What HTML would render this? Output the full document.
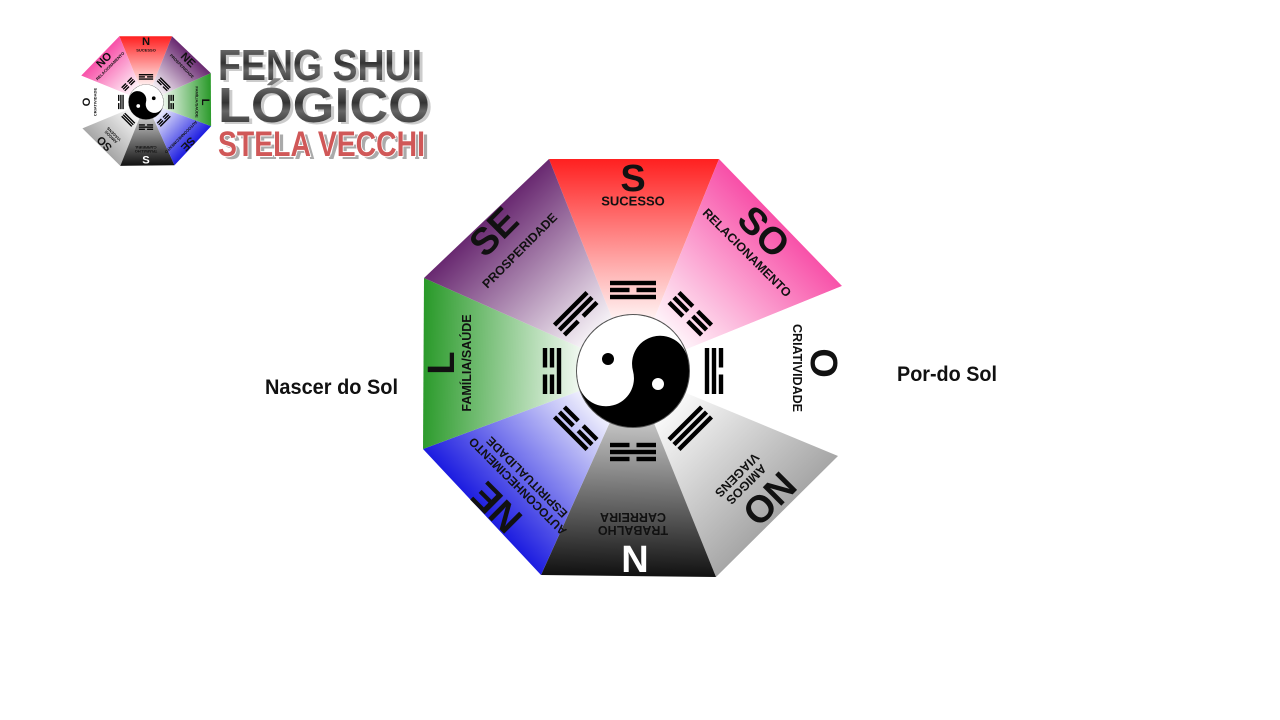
<!DOCTYPE html>
<html><head><meta charset="utf-8"><style>
html,body{margin:0;padding:0;background:#fff;width:1280px;height:720px;overflow:hidden}
svg{display:block}
text{font-family:"Liberation Sans",sans-serif;font-weight:bold}
</style></head><body>
<svg width="1280" height="720" viewBox="0 0 1280 720" xmlns="http://www.w3.org/2000/svg">
<defs>
<linearGradient id="gS" gradientUnits="userSpaceOnUse" x1="0" y1="0" x2="0" y2="-212"><stop offset="0.2" stop-color="#fff"/><stop offset="1" stop-color="#ff2020"/></linearGradient>
<linearGradient id="gSO" gradientUnits="userSpaceOnUse" x1="0" y1="0" x2="148" y2="-149"><stop offset="0.2" stop-color="#fff"/><stop offset="1" stop-color="#f850a8"/></linearGradient>
<linearGradient id="gNO" gradientUnits="userSpaceOnUse" x1="0" y1="0" x2="144" y2="146"><stop offset="0.2" stop-color="#fff"/><stop offset="1" stop-color="#a6a6a6"/></linearGradient>
<linearGradient id="gN" gradientUnits="userSpaceOnUse" x1="0" y1="0" x2="-4" y2="205"><stop offset="0.2" stop-color="#d0d0d0"/><stop offset="1" stop-color="#111"/></linearGradient>
<linearGradient id="gNE" gradientUnits="userSpaceOnUse" x1="0" y1="0" x2="-151" y2="141"><stop offset="0.2" stop-color="#fff"/><stop offset="1" stop-color="#1c1ce0"/></linearGradient>
<linearGradient id="gL" gradientUnits="userSpaceOnUse" x1="0" y1="0" x2="-210" y2="-7"><stop offset="0.2" stop-color="#fff"/><stop offset="1" stop-color="#2a9a2a"/></linearGradient>
<linearGradient id="gSE" gradientUnits="userSpaceOnUse" x1="0" y1="0" x2="-147" y2="-153"><stop offset="0.2" stop-color="#fff"/><stop offset="1" stop-color="#682870"/></linearGradient>
<linearGradient id="metal" x1="0" y1="0" x2="0" y2="1"><stop offset="0" stop-color="#888"/><stop offset="0.45" stop-color="#333"/><stop offset="0.6" stop-color="#666"/><stop offset="1" stop-color="#222"/></linearGradient>
<g id="sol"><rect x="-23" y="-2.2" width="46" height="4.4"/></g>
<g id="brk"><rect x="-23" y="-2.2" width="19.5" height="4.4"/><rect x="3.5" y="-2.2" width="19.5" height="4.4"/></g>
<g id="shapes">
 <polygon points="0,0 -84,-212 86,-212" fill="url(#gS)"/>
 <polygon points="0,0 86,-212 209,-85" fill="url(#gSO)"/>
 <polygon points="0,0 209,-85 205,85" fill="#fff"/>
 <polygon points="0,0 205,85 83,206" fill="url(#gNO)"/>
 <polygon points="0,0 83,206 -92,204" fill="url(#gN)"/>
 <polygon points="0,0 -92,204 -210,78" fill="url(#gNE)"/>
 <polygon points="0,0 -210,78 -209,-93" fill="url(#gL)"/>
 <polygon points="0,0 -209,-93 -84,-212" fill="url(#gSE)"/>
 <g fill="#000">
  <g><use href="#sol" y="-88"/><use href="#brk" y="-81"/><use href="#sol" y="-74"/></g>
  <g transform="rotate(45)"><use href="#brk" y="-88"/><use href="#brk" y="-81"/><use href="#brk" y="-74"/></g>
  <g transform="rotate(90)"><use href="#brk" y="-88"/><use href="#sol" y="-81"/><use href="#sol" y="-74"/></g>
  <g transform="rotate(135)"><use href="#sol" y="-88"/><use href="#sol" y="-81"/><use href="#sol" y="-74"/></g>
  <g transform="rotate(180)"><use href="#brk" y="-88"/><use href="#sol" y="-81"/><use href="#brk" y="-74"/></g>
  <g transform="rotate(225)"><use href="#sol" y="-88"/><use href="#brk" y="-81"/><use href="#brk" y="-74"/></g>
  <g transform="rotate(270)"><use href="#brk" y="-88"/><use href="#brk" y="-81"/><use href="#sol" y="-74"/></g>
  <g transform="rotate(315)"><use href="#sol" y="-88"/><use href="#sol" y="-81"/><use href="#brk" y="-74"/></g>
 </g>
 <circle r="56.5" fill="#000" stroke="#555" stroke-width="1"/>
 <g transform="rotate(75)">
  <path d="M0,-56 A56 56 0 0 0 0,56 A28 28 0 0 0 0,0 A28 28 0 0 1 0,-56 Z" fill="#fff"/>
 </g>
 <circle cx="-25" cy="-12" r="6" fill="#000"/>
 <circle cx="25" cy="13" r="6" fill="#fff"/>
</g>
</defs>

<g transform="translate(633,371)">
 <use href="#shapes"/>
 <g text-anchor="middle" dominant-baseline="central" fill="#111">
  <text x="0" y="-192" font-size="38">S</text>
  <text x="0" y="-170" font-size="13">SUCESSO</text>
  <g transform="rotate(45)"><text x="-6" y="-190" font-size="38">SO</text><text x="-3" y="-164" font-size="12.5">RELACIONAMENTO</text></g>
  <g transform="rotate(90)"><text x="-8" y="-190" font-size="38">O</text><text x="-3" y="-164" font-size="12.5">CRIATIVIDADE</text></g>
  <g transform="rotate(135)"><text x="-6" y="-186" font-size="38">NO</text><text x="0" y="-160" font-size="12.5">AMIGOS</text><text x="0" y="-147" font-size="12.5">VIAGENS</text></g>
  <g transform="rotate(180)"><text x="0" y="-159" font-size="12.5">TRABALHO</text><text x="0" y="-146" font-size="12.5">CARREIRA</text></g>
  <text x="2" y="189" font-size="38" fill="#fff">N</text>
  <g transform="rotate(225)"><text x="0" y="-192" font-size="38">NE</text><text x="0" y="-163" font-size="12">AUTOCONHECIMENTO</text><text x="0" y="-150" font-size="12">ESPIRITUALIDADE</text></g>
  <g transform="rotate(270)"><text x="8" y="-191" font-size="38">L</text><text x="8" y="-166" font-size="12.5">FAMÍLIA/SAÚDE</text></g>
  <g transform="rotate(315)"><text x="0" y="-196" font-size="38">SE</text><text x="5" y="-165" font-size="12.5">PROSPERIDADE</text></g>
 </g>
</g>

<g transform="translate(146,102) scale(-0.31,0.31)"><use href="#shapes"/></g>
<g transform="translate(146,102) scale(0.31)" text-anchor="middle" dominant-baseline="central" fill="#111">
  <text x="0" y="-193" font-size="36">N</text><text x="0" y="-168" font-size="13">SUCESSO</text>
  <g transform="rotate(45)"><text x="0" y="-190" font-size="36">NE</text><text x="0" y="-164" font-size="13">PROSPERIDADE</text></g>
  <g transform="rotate(90)"><text x="0" y="-190" font-size="36">L</text><text x="0" y="-164" font-size="13">FAMÍLIA/SAÚDE</text></g>
  <g transform="rotate(135)"><text x="0" y="-190" font-size="36">SE</text><text x="0" y="-160" font-size="13">AUTOCONHECIMENTO</text></g>
  <g transform="rotate(180)"><text x="0" y="-159" font-size="13">TRABALHO</text><text x="0" y="-146" font-size="13">CARREIRA</text></g>
  <text x="0" y="189" font-size="36" fill="#fff">S</text>
  <g transform="rotate(225)"><text x="0" y="-188" font-size="36">SO</text><text x="0" y="-160" font-size="13">AMIGOS</text><text x="0" y="-147" font-size="13">VIAGENS</text></g>
  <g transform="rotate(270)"><text x="0" y="-190" font-size="36">O</text><text x="0" y="-164" font-size="13">CRIATIVIDADE</text></g>
  <g transform="rotate(315)"><text x="0" y="-190" font-size="36">NO</text><text x="0" y="-164" font-size="13">RELACIONAMENTO</text></g>
</g>

<g>
 <text x="221" y="82" font-size="44" textLength="204" lengthAdjust="spacingAndGlyphs" fill="#ccc">FENG SHUI</text>
 <text x="218" y="80" font-size="44" textLength="204" lengthAdjust="spacingAndGlyphs" fill="url(#metal)">FENG SHUI</text>
 <text x="221" y="124" font-size="49" textLength="212" lengthAdjust="spacingAndGlyphs" fill="#ccc">LÓGICO</text>
 <text x="218" y="122" font-size="49" textLength="212" lengthAdjust="spacingAndGlyphs" fill="url(#metal)">LÓGICO</text>
 <text x="222" y="159" font-size="35" textLength="207" lengthAdjust="spacingAndGlyphs" fill="#aaa">STELA VECCHI</text>
 <text x="218" y="156" font-size="35" textLength="207" lengthAdjust="spacingAndGlyphs" fill="#d05858" stroke="#fff" stroke-width="2" paint-order="stroke">STELA VECCHI</text>
</g>

<text x="265" y="394" font-size="21" textLength="133" lengthAdjust="spacingAndGlyphs" fill="#111">Nascer do Sol</text>
<text x="897" y="381" font-size="21" textLength="100" lengthAdjust="spacingAndGlyphs" fill="#111">Por-do Sol</text>
</svg>
</body></html>
